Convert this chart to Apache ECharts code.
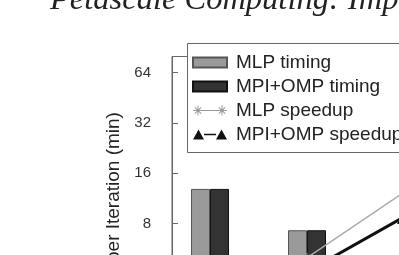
<!DOCTYPE html>
<html><head><meta charset="utf-8">
<script src="https://cdn.jsdelivr.net/npm/echarts@6/dist/echarts.min.js"></script>
<style>html,body{margin:0;padding:0;background:#fff;overflow:hidden}#c{width:399px;height:255px}</style>
</head><body><div id="c"></div>
<script>
const titleText = 'Petascale Computing: Impo';
const groupPositions = [1, 2, 3];
const mlpTiming = [12.9, 7.3, 4.2];
const mpiOmpTiming = [12.9, 7.3, 4.0];
const mlpSpeedup = [1.0, 2.77, 4.47];
const mpiOmpSpeedup = [1.0, 2.41, 3.83];
const yTickValues = [8, 16, 32, 64];
const seriesNames = ['MLP timing', 'MPI+OMP timing', 'MLP speedup', 'MPI+OMP speedup'];
const yAxisName = 'Time per Iteration (min)';

const starSym = 'path://M4.5,0h1v10h-1z M0,4.5h10v1h-10z M1.5,2.2L2.2,1.5L8.5,7.8L7.8,8.5z M7.8,1.5L8.5,2.2L2.2,8.5L1.5,7.8z';
const starLegend = 'path://M4.5,0h1v10h-1z M0,4.5h10v1h-10z M1.5,2.2L2.2,1.5L8.5,7.8L7.8,8.5z M7.8,1.5L8.5,2.2L2.2,8.5L1.5,7.8z ' +
  'M28.5,0h1v10h-1z M24,4.5h10v1h-10z M25.5,2.2L26.2,1.5L32.5,7.8L31.8,8.5z M31.8,1.5L32.5,2.2L26.2,8.5L25.5,7.8z M10,4.6h14v0.8h-14z';
const triLegend = 'path://M0,10L5.5,0L11,10z M11,4.2H23V5.8H11z M23,10L28.5,0L34,10z';

const pair = (arr) => arr.map((v, i) => [groupPositions[i], v]);
const chart = echarts.init(document.getElementById('c'), null, {renderer: 'canvas'});
const font = 'Liberation Sans';
chart.setOption({
  animation: false,
  backgroundColor: '#fff',
  graphic: [{
    type: 'text', left: 50, top: -16, z: 10,
    style: {text: titleText, font: 'italic 32.5px "Liberation Serif"', fill: '#222'}
  }, {
    type: 'rect', left: 187, top: 43, z: 3, silent: true,
    shape: {width: 260, height: 109},
    style: {fill: '#fff', stroke: '#666', lineWidth: 1}
  }],
  grid: {left: 172, top: 56.5, right: -102, bottom: -109.35, outerBoundsMode: 'none', show: true, borderColor: '#666', borderWidth: 1, backgroundColor: 'transparent'},
  legend: {
    orient: 'vertical', left: 187, top: 43, z: 4,
    padding: [10, 0, 7, 5],
    itemWidth: 34, itemHeight: 10, itemGap: 5, selectedMode: false,
    textStyle: {fontFamily: font, fontSize: 19, color: '#222', padding: [0, 0, 0, 4]},
    data: [
      {name: seriesNames[0], icon: 'rect'},
      {name: seriesNames[1], icon: 'rect'},
      {name: seriesNames[2], icon: starLegend},
      {name: seriesNames[3], icon: triLegend}
    ]
  },
  xAxis: {type: 'value', min: 0.608, max: 4, show: false},
  yAxis: [{
    type: 'log', logBase: 2, min: 1.15, max: 80,
    name: yAxisName, nameLocation: 'middle', nameGap: 47,
    nameTextStyle: {fontFamily: font, fontSize: 19, color: '#222'},
    axisLine: {show: true, lineStyle: {color: '#666', width: 1}},
    axisTick: {show: true, inside: true, length: 6, lineStyle: {color: '#666'}},
    axisLabel: {fontFamily: font, fontSize: 15, color: '#333', margin: 21, showMaxLabel: false, showMinLabel: false,
      formatter: (v) => yTickValues.indexOf(Math.round(v)) >= 0 ? String(Math.round(v)) : ''},
    splitLine: {show: false}
  }, {
    type: 'value', min: 0, max: 8, show: false, splitLine: {show: false}
  }],
  series: [
    {name: seriesNames[0], type: 'bar', data: pair(mlpTiming), barWidth: 19, barGap: '0%',
      itemStyle: {color: '#9a9a9a', borderColor: '#555', borderWidth: 1}},
    {name: seriesNames[1], type: 'bar', data: pair(mpiOmpTiming), barWidth: 19, barGap: '0%',
      itemStyle: {color: '#333', borderColor: '#111', borderWidth: 1}},
    {name: seriesNames[2], type: 'line', yAxisIndex: 1, data: pair(mlpSpeedup), symbol: starSym, symbolSize: 10,
      color: '#999', lineStyle: {color: '#aaa', width: 1.5}, itemStyle: {color: '#999'}},
    {name: seriesNames[3], type: 'line', yAxisIndex: 1, data: pair(mpiOmpSpeedup), symbol: 'triangle', symbolSize: 14,
      color: '#111', lineStyle: {color: '#111', width: 3}, itemStyle: {color: '#111'}}
  ]
});
</script></body></html>
